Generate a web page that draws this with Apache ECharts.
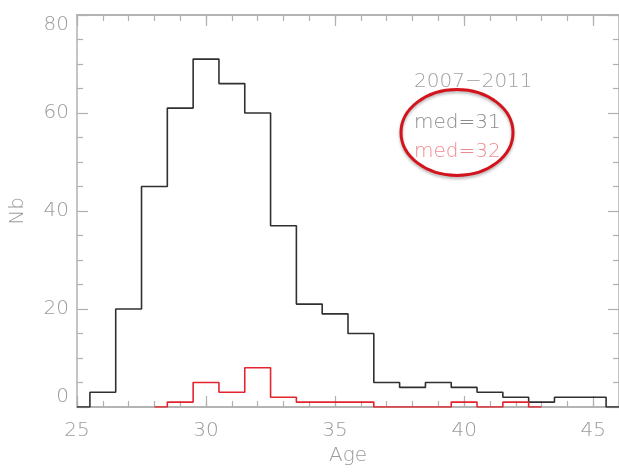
<!DOCTYPE html>
<html>
<head>
<meta charset="utf-8">
<script src="https://cdn.jsdelivr.net/npm/echarts@6/dist/echarts.min.js"></script>
<style>
html,body{margin:0;padding:0;background:#fff;}
#chart{width:619px;height:472px;}
</style>
</head>
<body>
<div id="chart"></div>
<script>
// Histogram bin centres (Age) and counts
const blackAges = [25,26,27,28,29,30,31,32,33,34,35,36,37,38,39,40,41,42,43,44,45,46];
const blackCounts = [0,3,20,45,61,71,66,60,37,21,19,15,5,4,5,4,3,2,1,2,2,0];
const redAges = [28,29,30,31,32,33,34,35,36,37,38,39,40,41,42,43];
const redCounts = [0,1,5,3,8,2,1,1,1,0,0,0,1,0,1,0];
const xTickLabels = ['25','30','35','40','45'];
const yTickLabels = ['0','20','40','60','80'];
const annotTitle = '2007\u22122011';
const annotBlack = 'med=31';
const annotRed = 'med=32';

const FONT = 'DejaVu Sans';
const AXIS_COLOR = '#b0b0b0';
const LABEL_COLOR = '#9a9a9a';

const chart = echarts.init(document.getElementById('chart'));

function xAx(pos, interval, len, showLabel) {
  return {
    type: 'value', min: 25, max: 46, interval: interval, position: pos,
    axisLine: {show: true, onZero: false, lineStyle: {color: AXIS_COLOR, width: 1.5}},
    axisTick: {show: true, inside: true, length: len, lineStyle: {color: AXIS_COLOR, width: 1.2}},
    splitLine: {show: false},
    axisLabel: {
      show: showLabel, margin: 14, color: LABEL_COLOR, fontSize: 20, fontFamily: FONT, fontWeight: 200,
      showMaxLabel: false,
      formatter: function (v) { return xTickLabels.indexOf(String(v)) >= 0 ? String(v) : ''; }
    },
    name: (showLabel ? 'Age' : ''), nameLocation: 'middle', nameGap: 29,
    nameTextStyle: {color: LABEL_COLOR, fontSize: 20, fontFamily: FONT, fontWeight: 200}
  };
}
function yAx(pos, showLabel) {
  return {
    type: 'value', min: 0, max: 80, interval: 20, position: pos,
    axisLine: {show: true, onZero: false, lineStyle: {color: AXIS_COLOR, width: 1.5}},
    axisTick: {show: true, inside: true, length: 11, lineStyle: {color: AXIS_COLOR, width: 1.2}},
    minorTick: {show: true, splitNumber: 4, length: 6, lineStyle: {color: AXIS_COLOR, width: 1.2}},
    splitLine: {show: false}, minorSplitLine: {show: false},
    axisLabel: {
      show: showLabel, margin: 8, color: LABEL_COLOR, fontSize: 20, fontFamily: FONT, fontWeight: 200,
      verticalAlignMinLabel: 'bottom', verticalAlignMaxLabel: 'top',
      formatter: function (v) { return yTickLabels.indexOf(String(v)) >= 0 ? String(v) : ''; }
    },
    name: (showLabel ? 'Nb' : ''), nameLocation: 'middle', nameGap: 49, nameRotate: 90,
    nameTextStyle: {color: LABEL_COLOR, fontSize: 20, fontFamily: FONT, fontWeight: 200}
  };
}

const option = {
  backgroundColor: '#fff',
  animation: false,
  grid: {left: 74, top: 15, width: 548, height: 392, containLabel: false},
  xAxis: [
    xAx('bottom', 5, 11, true),
    xAx('bottom', 1, 6, false),
    xAx('top', 5, 11, false),
    xAx('top', 1, 6, false)
  ],
  yAxis: [yAx('left', true), yAx('right', false)],
  series: [
    {
      type: 'line', step: 'middle', xAxisIndex: 0, yAxisIndex: 0,
      showSymbol: false, symbol: 'none',
      lineStyle: {color: '#303030', width: 1.6},
      data: blackAges.map((a, i) => [a, blackCounts[i]]),
      z: 3
    },
    {
      type: 'line', step: 'middle', xAxisIndex: 0, yAxisIndex: 0,
      showSymbol: false, symbol: 'none',
      lineStyle: {color: '#e3262e', width: 1.6},
      data: redAges.map((a, i) => [a, redCounts[i]]),
      z: 4
    }
  ],
  graphic: [
    {type: 'text', left: 414, top: 72,
     style: {text: annotTitle, fill: '#a0a0a0', font: '200 20px "DejaVu Sans"'}},
    {type: 'text', left: 414, top: 113,
     style: {text: annotBlack, fill: '#8c8c8c', font: '200 20px "DejaVu Sans"'}},
    {type: 'text', left: 414, top: 142,
     style: {text: annotRed, fill: '#f08a90', font: '200 20px "DejaVu Sans"'}},
    {type: 'ellipse', shape: {cx: 457, cy: 132.5, rx: 56, ry: 43},
     style: {fill: null, stroke: '#d4141c', lineWidth: 3,
             shadowBlur: 3, shadowColor: 'rgba(0,0,0,0.3)', shadowOffsetY: 2}}
  ]
};
chart.setOption(option);
</script>
</body>
</html>
